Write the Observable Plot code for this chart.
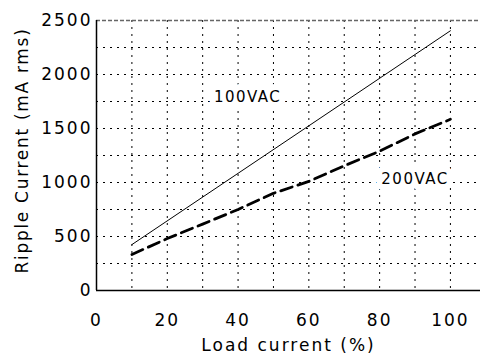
<!DOCTYPE html>
<html><head>
<meta charset="utf-8">
<script src="https://cdn.jsdelivr.net/npm/d3@7"></script>
<script src="https://cdn.jsdelivr.net/npm/@observablehq/plot@0.6"></script>
<style>
body{margin:0;background:#fff;}
#chart svg{font-family:"DejaVu Sans",sans-serif;}
#chart svg text{letter-spacing:2px;}
</style>
</head><body><div id="chart"></div>
<script>
const loadPct = [10, 20, 30, 40, 50, 60, 70, 80, 90, 100];
const ripple200 = [333, 481, 615, 750, 900, 1010, 1155, 1290, 1450, 1585];
const load100 = [10, 100];
const ripple100 = [425, 2405];
const xTicks = [0, 20, 40, 60, 80, 100];
const yTicks = [0, 500, 1000, 1500, 2000, 2500];
const xGrid = [10, 20, 30, 40, 50, 60, 70, 80, 90, 100];
const yGrid = [250, 500, 750, 1000, 1250, 1500, 1750, 2000, 2250];
const seriesLabels = ["100VAC", "200VAC"];
const labelX = [42.7, 90];
const labelY = [1787, 1028];
const xTitle = "Load current (%)";
const yTitle = "Ripple Current (mA rms)";

const d100 = load100.map((x, i) => ({x, y: ripple100[i]}));
const d200 = loadPct.map((x, i) => ({x, y: ripple200[i]}));
const lab = seriesLabels.map((t, i) => ({t, x: labelX[i], y: labelY[i]}));

const chart = Plot.plot({
  width: 480, height: 355,
  marginLeft: 96, marginRight: 0, marginTop: 20, marginBottom: 65,
  x: {domain: [0, 108.5]},
  y: {domain: [0, 2500]},
  marks: [
    Plot.ruleX(xGrid, {stroke: "#000", strokeWidth: 1, strokeDasharray: "2,5"}),
    Plot.ruleY(yGrid, {stroke: "#000", strokeWidth: 1, strokeDasharray: "2,5"}),
    Plot.ruleY([2500], {stroke: "#666", strokeWidth: 1.5, strokeDasharray: "4,2"}),
    Plot.ruleX([0], {stroke: "#000", strokeWidth: 1.5}),
    Plot.ruleY([0], {stroke: "#000", strokeWidth: 1.5}),
    Plot.line(d100, {x: "x", y: "y", stroke: "#000", strokeWidth: 1}),
    Plot.line(d200, {x: "x", y: "y", stroke: "#000", strokeWidth: 2.8, strokeDasharray: "12,6"}),
    Plot.text(lab, {x: "x", y: "y", text: "t", fontSize: 15, fill: "#000", stroke: "white", strokeWidth: 12}),
    Plot.axisX({ticks: xTicks, tickSize: 0, tickPadding: 23, fontSize: 17, label: null, tickFormat: d => String(d)}),
    Plot.axisY({ticks: yTicks, tickSize: 0, tickPadding: 4, fontSize: 17, label: null, tickFormat: d => String(d)}),
    Plot.text([xTitle], {text: d => d, frameAnchor: "bottom", dy: 55, textAnchor: "middle", lineAnchor: "middle", fontSize: 17, fill: "#000"}),
    Plot.text([yTitle], {text: d => d, frameAnchor: "left", dx: -74, dy: -5, textAnchor: "middle", lineAnchor: "middle", rotate: -90, fontSize: 17, fill: "#000"})
  ]
});
document.getElementById("chart").append(chart);
d3.select(chart).selectAll("text").filter(function() { return this.textContent === yTitle; }).style("letter-spacing", "1.7px");
d3.select(chart).selectAll("text").filter(function() { return seriesLabels.includes(this.textContent); }).style("letter-spacing", "1.5px");
</script>
</body></html>
